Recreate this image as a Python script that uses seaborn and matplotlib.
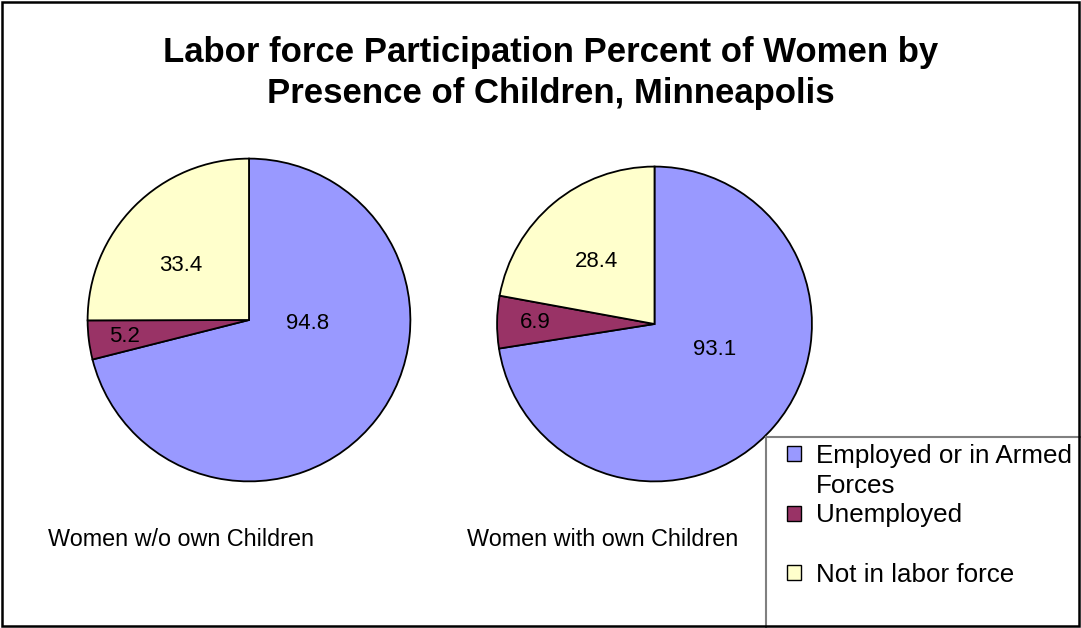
import matplotlib
matplotlib.use("Agg")
import matplotlib.pyplot as plt
from matplotlib.patches import Patch, Rectangle
import seaborn as sns

# Dados
categories = ["Employed or in Armed Forces", "Unemployed", "Not in labor force"]
groups = ["Women w/o own Children", "Women with own Children"]
without_children = [94.8, 5.2, 33.4]
with_children = [93.1, 6.9, 28.4]
colors = ["#9999FF", "#993366", "#FFFFCC"]

W, H = 1081, 628

sns.set_theme(style="white")
plt.rcParams["font.family"] = ["Liberation Sans", "DejaVu Sans"]
plt.rcParams["text.color"] = "black"

fig = plt.figure(figsize=(W / 100, H / 100), dpi=100)
fig.patch.set_facecolor("white")


def px_axes(cx, cy, r):
    # eixo quadrado centrado no pixel (cx, cy) com raio r
    return fig.add_axes([(cx - r) / W, (H - cy - r) / H, 2 * r / W, 2 * r / H])


# posicao dos rotulos dentro de cada pizza (unidades do raio)
label_pos = [
    [(0.36, -0.02), (-0.77, -0.10), (-0.42, 0.34)],
    [(0.38, -0.16), (-0.76, 0.01), (-0.37, 0.40)],
]

pies = [(249, 320, 163), (654.5, 324, 159)]
for i, (vals, (cx, cy, r)) in enumerate(zip([without_children, with_children], pies)):
    ax = px_axes(cx, cy, r)
    total = sum(vals)
    wedges, texts, autotexts = ax.pie(
        vals, colors=colors, startangle=90, counterclock=False, radius=1,
        autopct=lambda p, t=total: f"{p * t / 100:.1f}",
        wedgeprops=dict(edgecolor="black", linewidth=1.3),
        textprops=dict(fontsize=16, color="black"),
    )
    for t, pos in zip(autotexts, label_pos[i]):
        t.set_position(pos)
        t.set_ha("center")
        t.set_va("center")
    ax.set_xlim(-1.01, 1.01)
    ax.set_ylim(-1.01, 1.01)
    ax.set_aspect("equal")
    ax.axis("off")

# titulo
fig.text(551 / W, 1 - 73 / H,
         "Labor force Participation Percent of Women by\nPresence of Children, Minneapolis",
         ha="center", va="center", fontsize=25, fontweight="bold", linespacing=1.33)

# subtitulos
fig.text(48 / W, 1 - 540 / H, groups[0], ha="left", va="center", fontsize=16.8)
fig.text(467 / W, 1 - 540 / H, groups[1], ha="left", va="center", fontsize=16.8)

# legenda
blank = Patch(facecolor="none", edgecolor="none")
handles = [Patch(facecolor=colors[0], edgecolor="black"), blank,
           Patch(facecolor=colors[1], edgecolor="black"), blank,
           Patch(facecolor=colors[2], edgecolor="black")]
labels = ["Employed or in Armed", "Forces", categories[1], "", categories[2]]
fig.legend(handles, labels, loc="upper left",
           bbox_to_anchor=(787 / W, 1 - 444 / H), frameon=False,
           fontsize=18.7, handlelength=0.52, handleheight=0.52,
           handletextpad=0.58, labelspacing=0.22, borderaxespad=0,
           borderpad=0)
fig.patches.append(Rectangle((766 / W, -0.01), 0.3, (H - 437) / H + 0.01,
                             transform=fig.transFigure, facecolor="none",
                             edgecolor="#808080", linewidth=1.5))

# borda da figura
fig.patches.append(Rectangle((2 / W, 2 / H), 1 - 4 / W, 1 - 4 / H,
                             transform=fig.transFigure, facecolor="none",
                             edgecolor="black", linewidth=1.8))

fig.savefig("out.png", dpi=100)
